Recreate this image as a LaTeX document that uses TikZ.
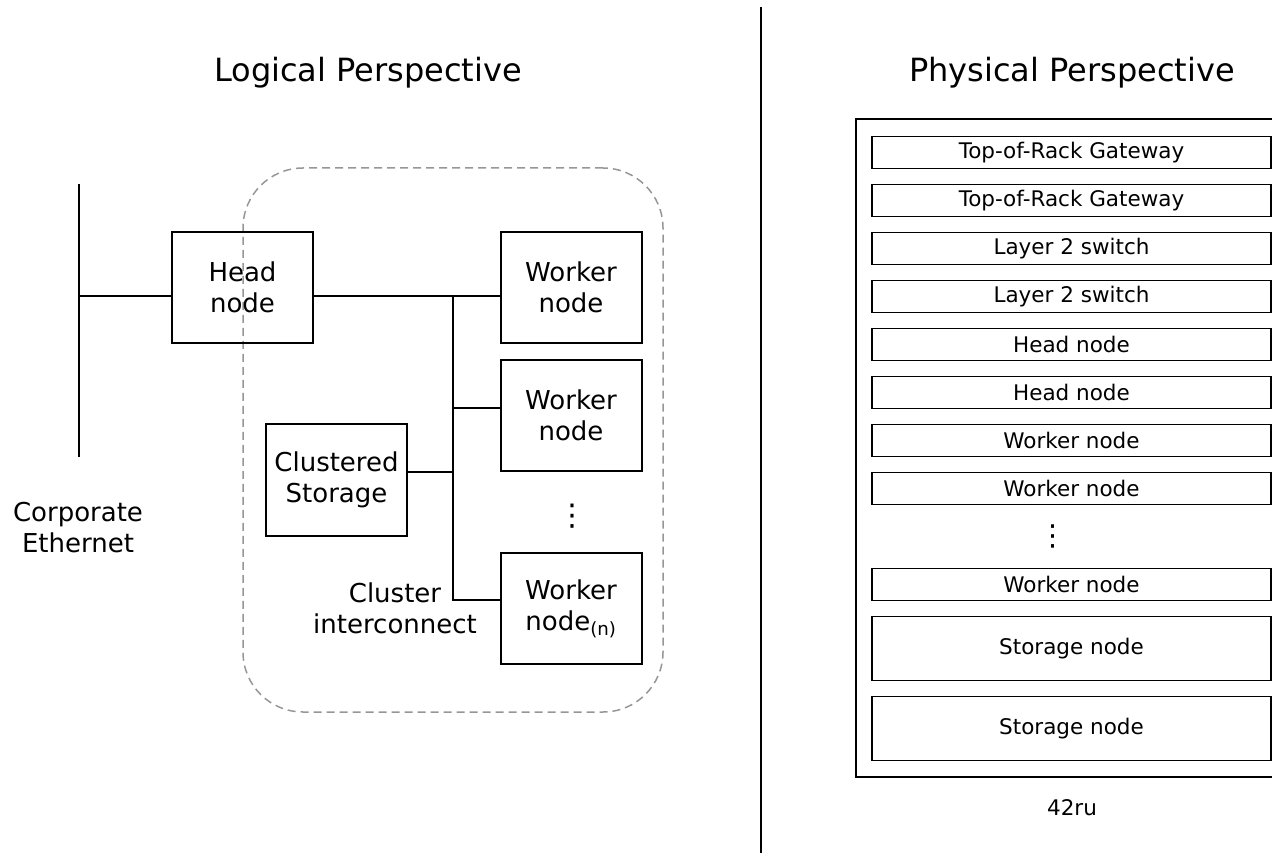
\documentclass[tikz,border=0pt]{standalone}
\usepackage{fontspec}
\setmainfont{DejaVu Sans}
\definecolor{dashgray}{RGB}{150,150,150}
\newcommand\fbody{\fontsize{26}{31}\selectfont}
\newcommand\ftitle{\fontsize{32}{38}\selectfont}
\newcommand\frack{\fontsize{21.5}{26}\selectfont}
\begin{document}
\begin{tikzpicture}[x=1pt,y=-1pt,
  every node/.style={inner sep=0pt, outer sep=0pt},
  box/.style={draw, line width=2pt, minimum width=141pt, minimum height=111pt, align=center, font=\fbody},
  lbl/.style={align=center, font=\fbody},
  ttl/.style={font=\ftitle, anchor=base},
  conn/.style={line width=1.8pt},
  rackbox/.style={draw, line width=1.6pt, minimum width=399pt, minimum height=32pt, font=\frack},
  bigrack/.style={rackbox, minimum height=64pt},
  clusterbox/.style={draw=dashgray, line width=1.5pt, dash pattern=on 8pt off 5pt, rounded corners=60pt, minimum width=420pt, minimum height=544pt},
  dotsnode/.style={font=\fontsize{30}{30}\selectfont}
]
\useasboundingbox (0,0) rectangle (1272,853);
\clip (0,0) rectangle (1272,853);

% divider
\coordinate (divT) at (761,7);
\coordinate (divB) at (761,853);
\draw[line width=2pt] (divT) -- (divB);

% titles
\node[ttl] (tlog) at (368,82) {Logical Perspective};
\node[ttl] (tphy) at (1072,82) {Physical Perspective};

% ---------- logical ----------
\node[clusterbox] (cluster) at (453,440) {};

\node[box] (head) at (242.5,287.5) {Head\\node};
\node[box] (w1) at (571,287.5) {Worker\\node};
\node[box] (w2) at (571,415.5) {Worker\\node};
\node[box, minimum height=112pt] (stor) at (336.5,480) {Clustered\\Storage};
\node[box] (wn) at (571,608.5) {Worker\\node\textsubscript{(n)}};
\node[dotsnode] (dots1) at (572.5,516) {⋮};

\node[lbl] (corp) at (78,528) {Corporate\\Ethernet};
\node[lbl] (ci) at (395,608) {Cluster\\interconnect};

\coordinate (ethT) at (79,184);
\coordinate (ethB) at (79,457);
\coordinate (bus) at (453,296);
\coordinate (j2) at (453,408);
\coordinate (js) at (453,472);
\coordinate (jn) at (453,600);

\draw[conn] (ethT) -- (ethB);
\draw[conn] (ethT |- bus) -- (head.west |- bus);
\draw[conn] (head.east |- bus) -- (w1.west |- bus);
\draw[conn] (bus) -- (jn) -- (wn.west |- jn);
\draw[conn] (j2) -- (w2.west |- j2);
\draw[conn] (stor.east |- js) -- (js);

% ---------- physical ----------
\node[draw, line width=2pt, minimum width=431pt, minimum height=658pt] (rack) at (1071.5,448) {};
\node[rackbox] (r1) at (1071.5,152.5) {Top-of-Rack Gateway};
\node[rackbox] (r2) at (1071.5,200.5) {Top-of-Rack Gateway};
\node[rackbox] (r3) at (1071.5,248.5) {Layer 2 switch};
\node[rackbox] (r4) at (1071.5,296.5) {Layer 2 switch};
\node[rackbox] (r5) at (1071.5,344.5) {Head node};
\node[rackbox] (r6) at (1071.5,392.5) {Head node};
\node[rackbox] (r7) at (1071.5,440.5) {Worker node};
\node[rackbox] (r8) at (1071.5,488.5) {Worker node};
\node[dotsnode, font=\fontsize{29}{29}\selectfont] (dots2) at (1053,536) {⋮};
\node[rackbox] (r9) at (1071.5,584.5) {Worker node};
\node[bigrack] (r10) at (1071.5,648.5) {Storage node};
\node[bigrack] (r11) at (1071.5,728.5) {Storage node};
\node[font=\frack] (ru) at (1072,808) {42ru};
\end{tikzpicture}
\end{document}
